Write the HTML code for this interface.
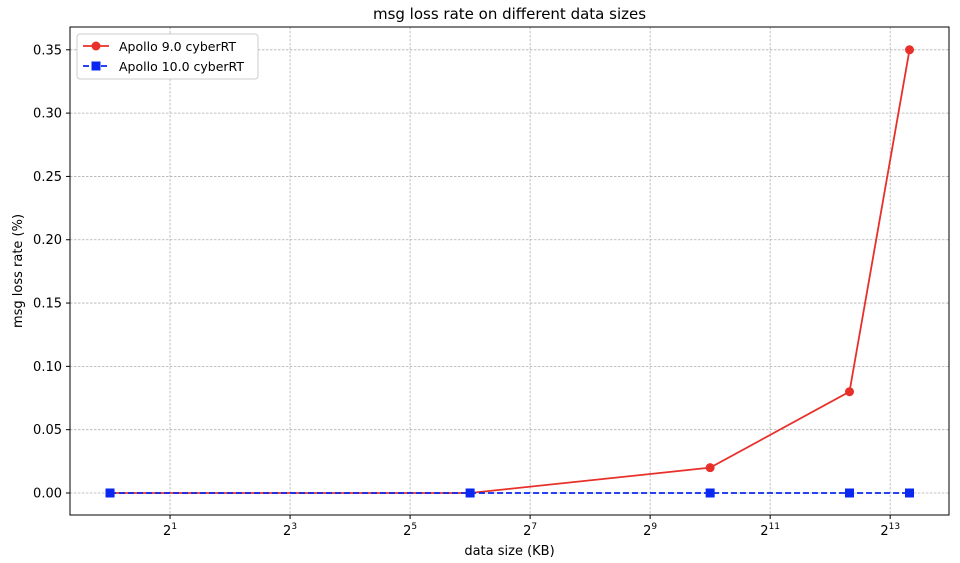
<!DOCTYPE html>
<html><head><meta charset="utf-8"><style>
body{margin:0;background:#fff;}
svg{display:block;font-family:"DejaVu Sans","Liberation Sans",sans-serif;}
</style></head><body>
<svg id="chart" width="960" height="563" viewBox="0 0 960 563"></svg>
<script>
const dataSizes=[1,64,1024,5120,10240];
const apollo9=[0,0,0.02,0.08,0.35];
const apollo10=[0,0,0,0,0];
const yTicks=[0,0.05,0.10,0.15,0.20,0.25,0.30,0.35];
const xTickExps=[1,3,5,7,9,11,13];

const L=70,R=949,T=27,B=515;
const xMin=-0.667,xMax=13.98,yMin=-0.01738,yMax=0.368;
const sx=v=>L+(Math.log2(v)-xMin)/(xMax-xMin)*(R-L);
const sxe=e=>L+(e-xMin)/(xMax-xMin)*(R-L);
const sy=v=>B-(v-yMin)/(yMax-yMin)*(B-T);
const NS="http://www.w3.org/2000/svg";
const svg=document.getElementById('chart');
function mk(tag,attrs,parent){const e=document.createElementNS(NS,tag);for(const k in attrs)e.setAttribute(k,attrs[k]);(parent||svg).appendChild(e);return e;}

const bg=mk('rect',{x:L,y:T,width:R-L,height:B-T,fill:'#fff'});



yTicks.forEach(v=>{
  const y=sy(v);
  const g=mk('line',{x1:L,x2:R,y1:y,y2:y,stroke:'#b0b0b0','stroke-width':0.8,'stroke-dasharray':'2.5,1.5'});
  
  
  mk('line',{x1:L-4,x2:L,y1:y,y2:y,stroke:'#000'});
  const t=mk('text',{x:L-8,y:y+4.5,'text-anchor':'end','font-size':13});
  t.textContent=v.toFixed(2);
  
  
});
xTickExps.forEach(e=>{
  const x=sxe(e);
  const g=mk('line',{x1:x,x2:x,y1:T,y2:B,stroke:'#b0b0b0','stroke-width':0.8,'stroke-dasharray':'2.5,1.5'});
  
  
  mk('line',{x1:x,x2:x,y1:B,y2:B+4,stroke:'#000'});
  const t=mk('text',{x:x,y:B+20,'text-anchor':'middle','font-size':13});
  t.textContent='2';
  const s=mk('tspan',{'font-size':9,dy:-6},t);s.textContent=e;
  
  
});

function series(vals,color,dash,marker,name){
  const pts=dataSizes.map((d,i)=>[sx(d),sy(vals[i])]);
  const pl=mk('polyline',{points:pts.map(p=>p.join(',')).join(' '),fill:'none',stroke:color,'stroke-width':1.8});
  if(dash)pl.setAttribute('stroke-dasharray',dash);
  
  
  pts.forEach(p=>{
    let m;
    if(marker==='circle')m=mk('circle',{cx:p[0],cy:p[1],r:4.5,fill:color});
    else m=mk('rect',{x:p[0]-4.5,y:p[1]-4.5,width:9,height:9,fill:color});
    
    
  });
}
series(apollo9,'#e8302a',null,'circle','apollo9');
series(apollo10,'#0a28f0','6,3','square','apollo10');

const frame=mk('rect',{x:L,y:T,width:R-L,height:B-T,fill:'none',stroke:'#000','stroke-width':1});



const title=mk('text',{x:(L+R)/2,y:19,'text-anchor':'middle','font-size':15});
title.textContent='msg loss rate on different data sizes';


const xl=mk('text',{x:(L+R)/2,y:555,'text-anchor':'middle','font-size':13});
xl.textContent='data size (KB)';


const yl=mk('text',{x:22,y:(T+B)/2,'text-anchor':'middle','font-size':13,transform:'rotate(-90 22 '+((T+B)/2)+')'});
yl.textContent='msg loss rate (%)';



const lg=mk('g',{});


mk('rect',{x:77,y:34,width:181,height:45,rx:3,fill:'#fff',stroke:'#ccc'},lg);
mk('line',{x1:83,x2:109,y1:46,y2:46,stroke:'#e8302a','stroke-width':1.8},lg);
mk('circle',{cx:96,cy:46,r:4.5,fill:'#e8302a'},lg);
const t1=mk('text',{x:119,y:51,'font-size':12.5},lg);t1.textContent='Apollo 9.0 cyberRT';


mk('line',{x1:83,x2:109,y1:66,y2:66,stroke:'#0a28f0','stroke-width':1.8,'stroke-dasharray':'6,3'},lg);
mk('rect',{x:91.5,y:61.5,width:9,height:9,fill:'#0a28f0'},lg);
const t2=mk('text',{x:119,y:71,'font-size':12.5},lg);t2.textContent='Apollo 10.0 cyberRT';


</script>
</body></html>
